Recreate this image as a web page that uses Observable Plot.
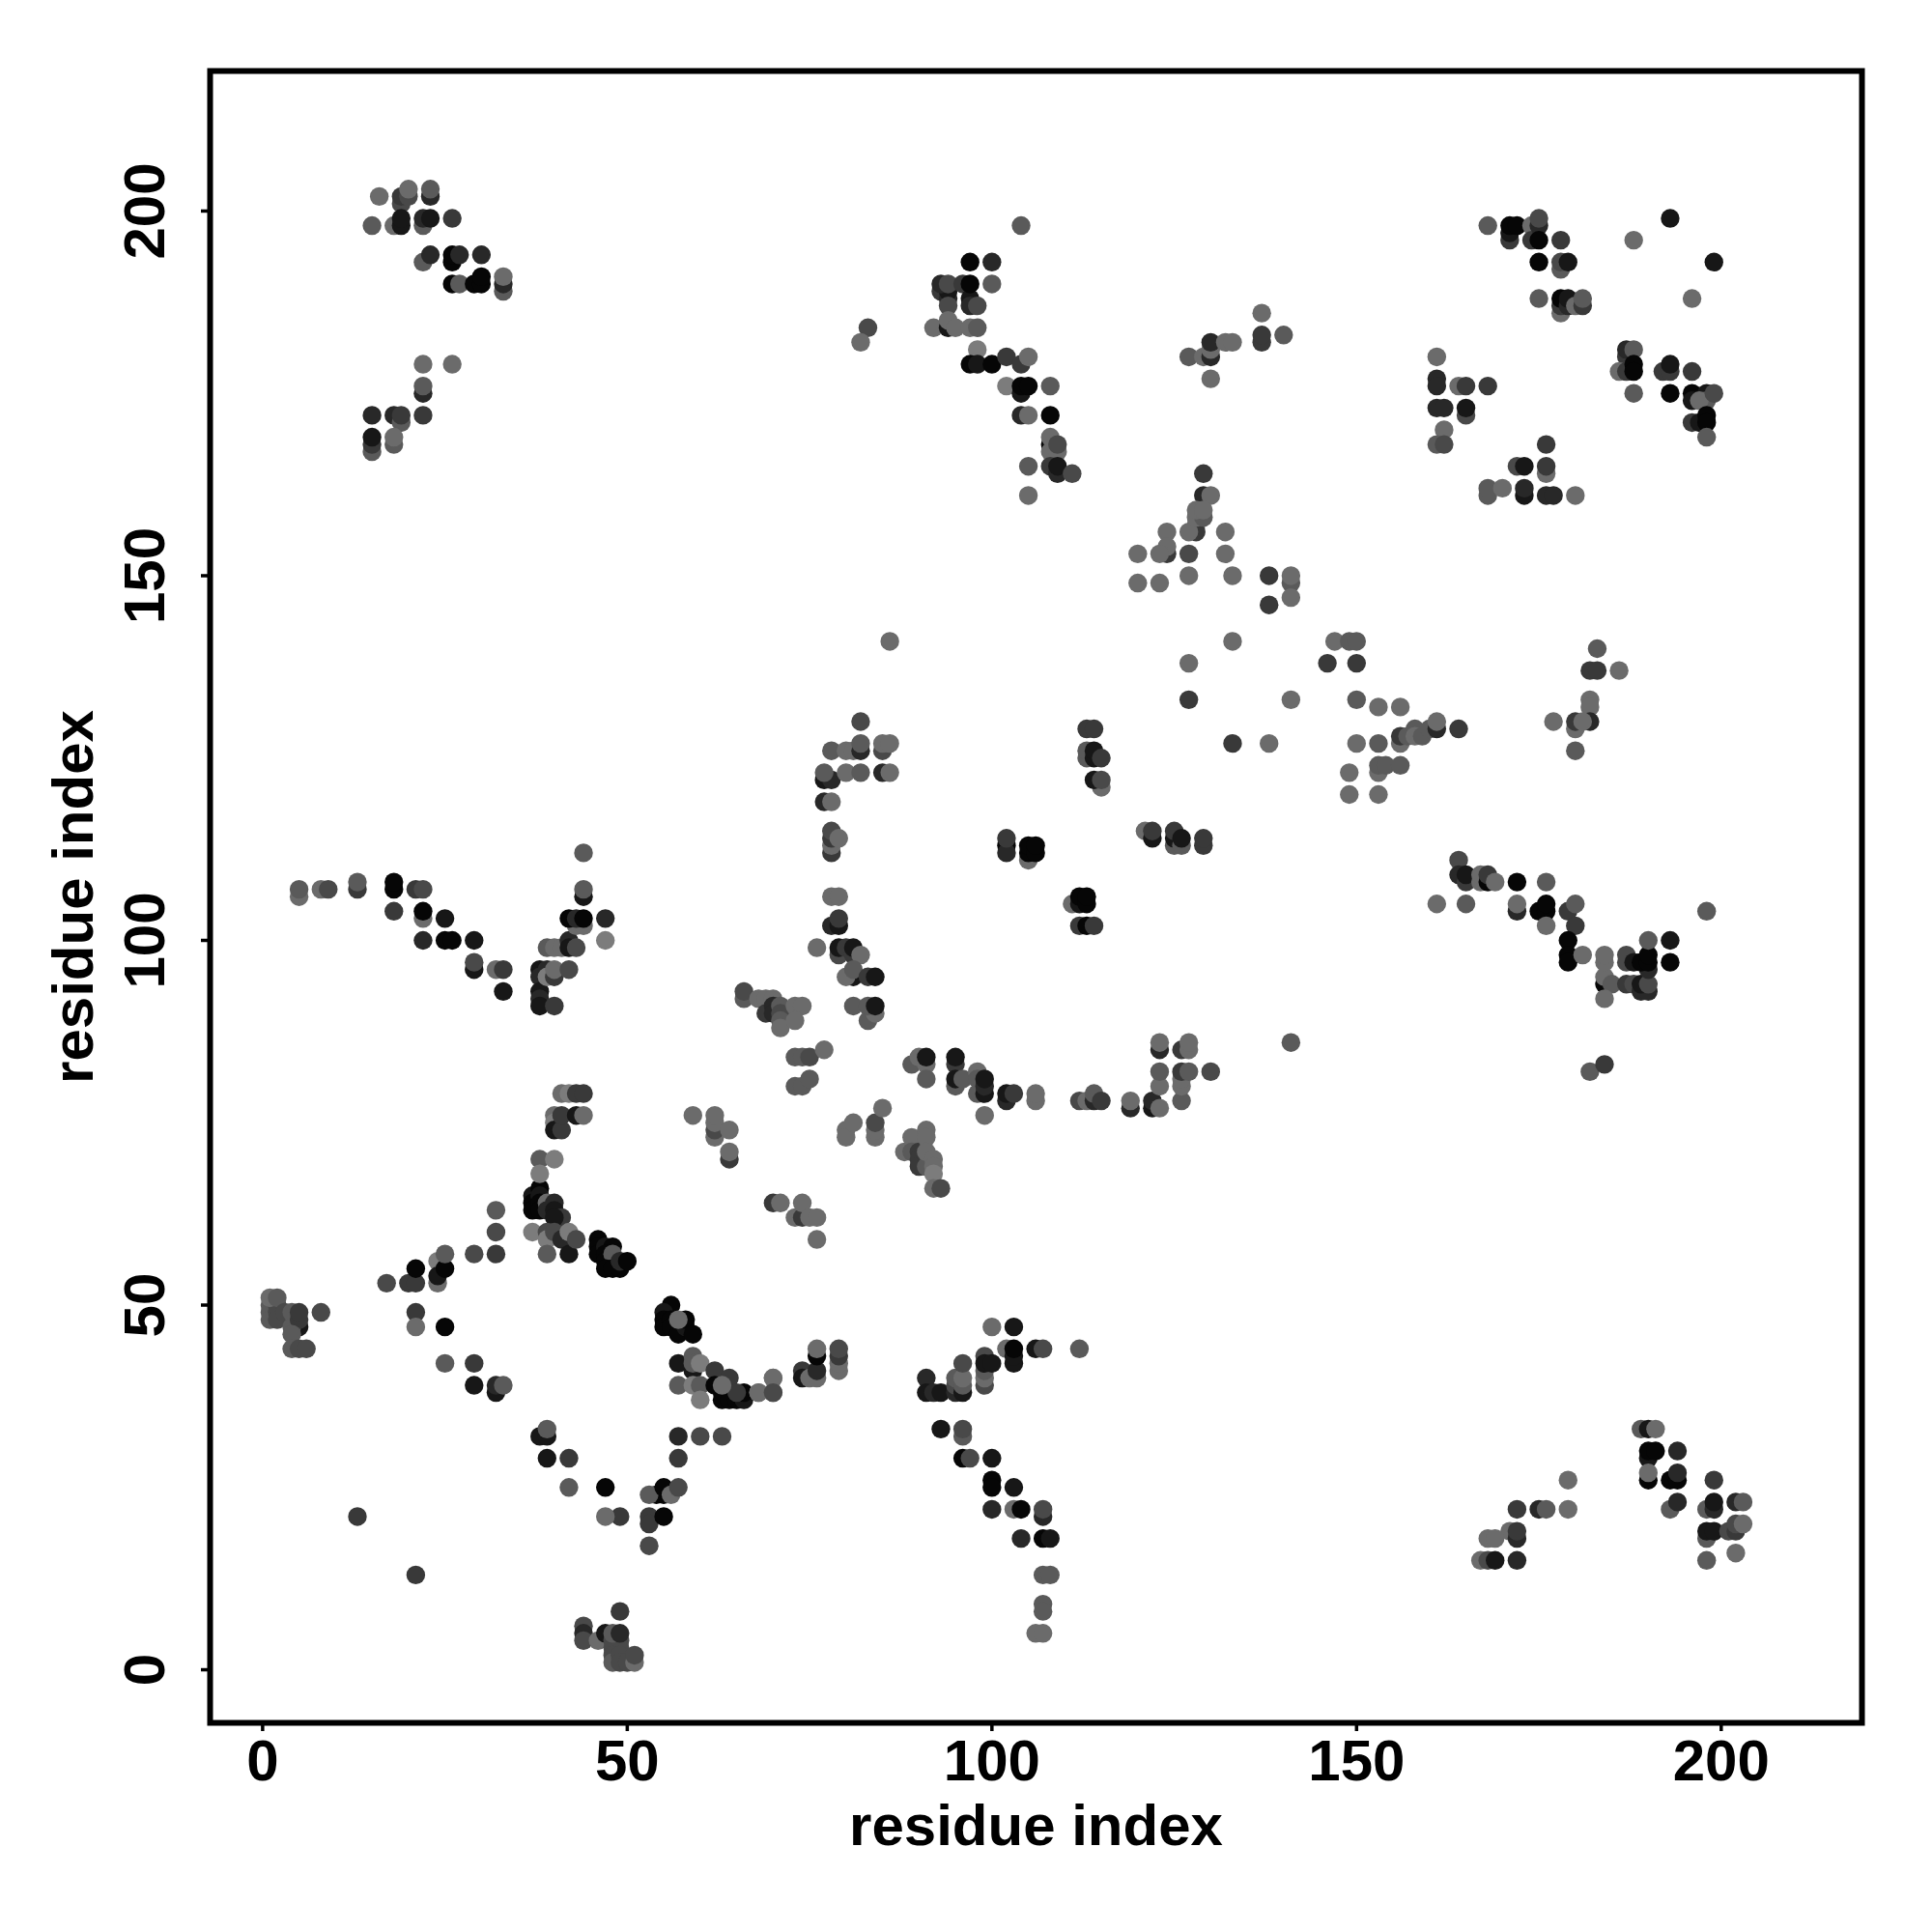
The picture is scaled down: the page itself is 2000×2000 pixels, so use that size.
<!DOCTYPE html>
<html>
<head>
<meta charset="utf-8">
<script src="https://cdn.jsdelivr.net/npm/d3@7"></script>
<script src="https://cdn.jsdelivr.net/npm/@observablehq/plot@0.6"></script>
<style>html,body{margin:0;padding:0;background:#fff}svg{display:block}</style>
</head>
<body>
<div id="chart"></div>
<script>
// each contact: [residue i, residue j, shade level 0 (black) .. 7 (light grey)]
const tickValues = [0, 50, 100, 150, 200];
const axisLabel = "residue index";

const nTerminus = [[1,50,5],[1,49,5],[1,48,5],[2,50,4],[2,49,4],[2,48,4],[1,51,6],[2,51,5],[3,49,4],[4,49,5],[5,47,1],[4,47,5],[5,48,3],[5,49,3],[4,46,5],[4,44,5],[5,44,4],[6,44,4],[8,49,4],[13,21,3],[21,13,3]];
const loopA = [[17,53,4],[20,53,3],[21,53,3],[21,55,0],[24,53,6],[24,56,7],[24,54,1],[25,55,0],[25,57,5],[29,57,4],[32,57,3],[32,60,4],[32,63,5],[21,49,3],[21,47,6],[25,47,0],[25,42,5],[29,42,3],[29,39,1],[32,38,1],[32,39,2],[33,39,5]];
const coreB = [[37,65,1],[37,64,0],[37,63,0],[38,66,0],[38,65,1],[38,64,0],[38,63,0],[39,64,6],[39,63,2],[40,64,2],[40,63,1],[41,62,3],[40,62,1],[37,60,7],[39,60,4],[39,59,7],[39,57,5],[40,60,4],[41,59,2],[42,60,7],[42,57,1],[43,59,4],[38,70,5],[40,70,7],[38,68,7]];
const coreC = [[46,59,0],[46,58,0],[46,57,0],[47,58,1],[48,58,0],[47,57,0],[47,56,0],[48,56,0],[48,57,5],[47,55,0],[48,55,0],[49,55,0],[49,56,2],[50,56,0]];
const coreD = [[56,50,0],[55,49,1],[55,48,0],[55,47,0],[56,48,0],[56,47,0],[57,46,0],[58,47,1],[58,48,0],[57,48,6],[59,46,0]];
const coreE = [[57,42,1],[59,41,1],[59,43,5],[59,42,5],[60,42,7],[62,41,3],[64,40,3],[57,39,5],[59,39,7],[60,39,5],[60,37,7],[62,39,0],[63,38,0],[63,37,0],[64,37,0],[65,37,0],[66,37,1],[66,38,0],[65,38,3],[63,39,6],[68,38,7],[70,38,5],[70,40,7]];
const betaF = [[57,32,2],[60,32,4],[63,32,4],[57,29,3],[38,32,1],[39,32,1],[39,33,5],[39,29,1],[42,29,3],[42,25,5],[47,25,0],[49,21,3],[47,21,6],[54,24,0],[55,24,0],[53,24,5],[55,25,0],[56,24,6],[57,25,4],[53,21,3],[53,20,3],[55,21,0],[53,17,4]];
const bottomG = [[49,8,3],[44,6,4],[44,5,2],[44,4,4],[46,4,6],[47,5,1],[48,4,4],[49,4,4],[48,3,4],[49,3,4],[48,5,5],[49,5,2],[48,2,4],[48,1,5],[49,2,4],[49,1,4],[50,1,4],[51,1,6],[51,2,4]];
const strandH = [[5,106,6],[5,107,5],[8,107,6],[9,107,4],[13,107,3],[13,108,5],[18,107,0],[18,108,0],[18,104,3],[21,107,3],[22,107,4],[22,103,6],[22,104,0],[25,103,1],[22,100,2],[25,100,0],[26,100,0],[29,100,1],[29,96,1],[29,97,4],[32,96,6],[33,96,3],[33,93,1]];
const strandI = [[38,96,1],[38,95,2],[38,93,1],[38,92,2],[38,91,1],[39,96,2],[39,95,7],[40,95,3],[40,96,6],[40,91,3],[42,96,4],[39,99,5],[40,99,6],[41,99,6],[42,100,2],[42,99,1],[43,99,4],[43,102,6],[44,102,6],[42,103,0],[43,103,2],[44,103,0],[47,103,2],[47,100,7],[44,106,1],[44,107,5],[44,112,5]];
const strandJ = [[41,79,6],[42,79,7],[43,79,3],[44,79,3],[40,76,6],[40,75,7],[40,74,1],[41,74,3],[41,76,3],[43,76,1],[44,76,6],[59,76,6],[62,73,6],[62,74,4],[62,75,6],[62,76,6],[64,74,6],[64,70,3],[64,71,6],[70,64,3],[71,64,6],[73,62,6],[74,62,3],[74,64,6],[75,62,6],[76,62,6],[76,59,6]];
const helixK = [[66,92,5],[66,93,4],[68,92,6],[69,92,6],[70,92,6],[69,90,3],[70,91,2],[70,90,2],[71,91,5],[71,90,4],[71,89,5],[71,88,6],[73,91,6],[74,91,6],[73,89,6],[73,84,5],[74,84,5],[75,84,4],[77,85,6],[73,80,5],[74,80,5],[75,81,5]];
const helixL = [[80,74,6],[80,73,6],[81,75,6],[84,73,6],[84,74,6],[84,75,4],[85,77,6],[88,71,6],[89,73,6],[89,71,5],[90,71,3],[90,70,3],[90,69,3],[91,70,3],[91,69,5],[91,74,6],[91,73,6],[91,71,6],[92,70,6],[92,69,6],[92,68,7],[92,66,6],[93,66,4]];
const turnM = [[79,98,4],[78,102,2],[79,102,1],[79,103,3],[76,99,6],[79,99,1],[80,99,3],[81,98,3],[81,99,1],[82,98,6],[81,95,1],[80,95,6],[81,96,5],[83,95,3],[84,95,1],[81,91,5],[83,89,5],[84,90,6],[83,91,5],[84,91,1]];
const turnN = [[78,106,6],[79,106,6],[78,112,3],[78,113,6],[78,114,3],[78,115,4],[79,114,6],[77,119,2],[78,119,6],[77,122,1],[78,122,2],[77,123,5],[80,123,6],[82,123,5],[85,123,2],[86,123,6],[78,126,5],[80,126,6],[81,126,6],[82,126,2],[82,127,5],[85,126,4],[85,127,6],[86,127,6],[82,130,4],[86,141,6]];
const bandO = [[89,83,5],[90,84,6],[91,83,6],[91,84,1],[91,81,5],[95,83,3],[95,84,1],[95,80,5],[95,81,1],[96,81,5],[98,82,6],[98,79,5],[98,81,5],[99,79,1],[99,80,2],[99,81,1],[99,76,6],[102,78,2],[102,79,1],[103,79,3],[106,78,6],[106,79,6],[112,78,4],[113,78,6],[114,78,2],[114,79,5],[115,78,3]];
const bandP = [[119,77,2],[119,78,6],[122,77,1],[122,78,2],[123,77,6],[123,80,6],[123,82,5],[123,85,2],[123,86,6],[126,78,5],[126,80,6],[126,81,6],[126,82,3],[127,82,5],[126,85,3],[127,85,6],[127,86,6],[130,82,4],[141,86,5]];
const bandQ = [[70,40,6],[68,38,6],[70,38,4],[74,41,3],[74,40,1],[75,40,6],[76,40,6],[76,41,2],[76,43,0],[76,44,6],[79,41,6],[79,42,6],[79,43,3],[79,44,4]];
const bandR = [[91,40,2],[91,38,1],[92,38,2],[93,38,1],[95,38,2],[95,39,4],[95,40,5],[96,38,1],[96,39,5],[96,40,6],[96,42,4],[99,39,4],[99,40,6],[99,41,5],[99,43,4],[99,42,1],[100,42,1],[100,47,6],[103,47,1],[102,44,6],[103,42,1],[103,43,1],[103,44,0],[106,44,1],[107,44,4],[112,44,5]];
const bandS = [[93,33,1],[96,32,5],[96,33,4],[96,29,0],[97,29,4],[100,29,1],[100,26,0],[100,25,0],[103,25,1],[100,22,2],[103,22,6],[104,22,0],[107,21,2],[107,22,4],[104,18,2],[107,18,0],[108,18,1],[107,13,5],[108,13,5],[107,9,5],[107,8,5],[106,5,6],[107,5,6]];
const blockT = [[102,113,0],[102,112,2],[102,114,3],[105,111,6],[105,112,0],[105,113,0],[106,112,0],[106,113,0],[113,129,3],[114,129,3],[113,125,5],[113,126,5],[114,125,1],[114,126,1],[115,125,3],[115,121,6],[114,122,1],[115,122,4],[111,105,6],[112,105,1],[112,106,0],[113,105,0],[113,106,0],[112,102,3],[113,102,0],[114,102,3]];
const blockU = [[121,115,6],[122,114,1],[122,115,3],[125,113,5],[125,114,1],[125,115,3],[126,113,5],[126,114,1],[129,113,3],[129,114,3]];
const sheetV = [[127,133,3],[141,133,6],[133,127,3],[138,127,6],[127,138,6],[133,141,6],[146,138,3],[147,141,6],[149,141,5],[150,141,5],[150,138,3],[150,133,5],[153,132,6],[156,132,6],[150,127,6],[153,127,5],[156,127,6],[156,128,3],[157,128,5],[158,129,5],[158,128,6],[159,128,5],[160,129,5],[161,129,2],[161,130,6],[164,129,3],[153,123,6],[153,124,5],[154,124,5],[156,124,5],[149,123,6],[149,120,6],[153,120,6]];
const sheetW = [[183,140,5],[182,137,3],[183,137,3],[186,137,6],[182,133,6],[182,132,6],[177,130,6],[180,129,6],[180,130,3],[182,130,2],[181,130,6],[180,126,5]];
const sheetX = [[164,111,4],[164,109,2],[165,108,3],[165,109,1],[167,108,6],[167,109,6],[168,108,0],[168,109,3],[169,108,6],[172,108,0],[176,108,5],[161,105,6],[165,105,5],[172,104,2],[172,105,6],[175,104,0],[176,104,0],[176,105,0],[176,102,6],[179,104,3],[180,105,5],[180,102,3],[179,100,0],[179,98,0],[179,97,0],[181,98,6]];
const sheetY = [[184,94,0],[184,95,6],[184,97,6],[184,98,6],[185,94,5],[184,92,6],[187,94,3],[188,94,4],[189,93,2],[190,93,2],[189,94,1],[190,94,4],[187,97,4],[187,98,4],[188,97,1],[190,96,2],[189,97,0],[190,97,0],[190,98,0],[190,100,5],[193,100,1],[193,97,0],[198,104,5],[182,82,5],[184,83,3]];
const hairpinA = [[137,186,6],[137,182,3],[137,183,3],[140,183,5],[127,180,5],[129,180,6],[130,180,2],[130,181,6],[130,182,2],[132,182,6],[133,182,6],[130,177,6]];
const hairpinB = [[129,164,3],[129,161,2],[130,161,6],[128,157,6],[128,156,3],[127,156,6],[128,158,6],[129,158,5],[128,159,6],[129,159,6],[124,156,6],[132,156,6],[124,153,3],[124,154,6],[123,153,6],[127,153,4],[132,153,6],[120,153,6],[120,149,6],[123,149,6],[127,150,6],[133,150,6],[138,150,3],[141,149,5],[141,150,6],[141,147,6],[138,146,3]];
const hairpinC = [[161,180,6],[161,177,2],[161,176,2],[164,176,6],[165,176,3],[168,176,3],[161,173,2],[162,173,2],[165,172,4],[165,173,1],[162,170,6],[161,168,5],[162,168,4],[176,168,3],[172,165,4],[173,165,1],[176,164,6],[176,165,3],[168,161,5],[168,162,5],[170,162,6],[173,161,1],[173,162,2],[176,161,2],[177,161,2],[180,161,6]];
const hairpinD = [[187,180,3],[187,181,2],[188,181,5],[186,178,6],[187,178,3],[188,179,0],[188,178,0],[188,175,5],[192,178,3],[193,178,3],[193,179,1],[196,178,3],[193,175,0],[196,175,0],[196,174,1],[198,175,1],[198,174,5],[197,174,6],[199,175,4],[196,171,3],[197,171,1],[198,172,0],[198,171,0],[198,169,5]];
const topE = [[16,202,6],[19,201,4],[19,202,3],[20,202,4],[20,203,6],[23,202,2],[23,203,5],[15,198,5],[18,198,6],[19,198,1],[19,199,1],[22,198,5],[22,199,2],[23,199,1],[26,199,3],[22,193,5],[23,194,2],[26,193,0],[26,194,0],[27,194,2],[30,194,2],[26,190,0],[27,190,5],[29,190,0],[30,190,0],[30,191,0],[33,189,5],[33,190,2],[33,191,6]];
const topF = [[22,179,6],[26,179,6],[22,175,2],[22,176,5],[15,172,2],[18,172,2],[19,171,5],[19,172,3],[22,172,3],[15,167,5],[15,168,3],[15,169,1],[18,168,5],[18,169,6]];
const topG = [[104,198,5],[97,193,0],[100,193,2],[100,190,5],[93,189,3],[94,188,2],[94,189,1],[94,187,4],[93,190,2],[94,190,4],[96,190,3],[97,188,1],[97,187,2],[97,190,0],[98,187,4],[83,184,4],[82,182,6],[92,184,6],[94,184,1],[94,185,6],[95,184,6],[97,184,6],[98,184,5]];
const topH = [[98,181,7],[97,179,0],[98,179,1],[100,179,0],[102,180,3],[104,179,3],[105,180,6],[102,176,7],[104,175,1],[104,176,0],[105,176,0],[108,176,5],[104,172,2],[105,172,6],[108,172,0],[108,168,0],[108,167,6],[108,169,6],[109,167,6],[109,168,4],[105,165,5],[108,165,3],[109,164,2],[109,165,1],[111,164,4],[105,161,6]];
const topI = [[168,198,5],[171,196,3],[171,197,1],[171,198,0],[172,198,0],[174,198,6],[174,196,3],[175,198,2],[175,196,0],[175,199,4],[178,196,3],[175,193,0],[178,192,5],[178,193,4],[179,193,1],[175,188,5],[178,186,6],[178,187,3],[178,188,0],[179,187,2],[179,188,1],[180,187,6],[181,187,3],[181,188,5],[193,199,1],[188,196,6],[199,193,1],[196,188,6]];
const cornerJ = [[172,22,3],[175,22,2],[176,22,5],[179,22,6],[179,26,6],[171,19,6],[172,18,2],[172,19,3],[168,18,6],[169,18,6],[167,15,6],[168,15,4],[169,15,1],[172,15,2]];
const cornerK = [[189,33,5],[190,33,1],[191,33,6],[190,29,1],[190,30,0],[191,30,0],[194,30,2],[190,26,0],[190,27,6],[193,26,0],[194,26,0],[194,27,2],[193,22,5],[194,23,2],[199,26,3],[198,22,5],[199,22,2],[199,23,1],[202,23,2],[203,23,5],[198,18,5],[198,19,1],[199,19,1],[201,19,4],[202,19,3],[202,20,4],[203,20,6],[202,16,6],[198,15,5]];

const contacts = [
  ...nTerminus, ...loopA, ...coreB, ...coreC, ...coreD, ...coreE, ...betaF, ...bottomG,
  ...strandH, ...strandI, ...strandJ, ...helixK, ...helixL, ...turnM, ...turnN,
  ...bandO, ...bandP, ...bandQ, ...bandR, ...bandS, ...blockT, ...blockU,
  ...sheetV, ...sheetW, ...sheetX, ...sheetY, ...hairpinA, ...hairpinB, ...hairpinC, ...hairpinD,
  ...topE, ...topF, ...topG, ...topH, ...topI, ...cornerJ, ...cornerK
];

const font = "'Liberation Sans', Arial, sans-serif";
const chart = Plot.plot({
  width: 2000,
  height: 2000,
  marginLeft: 217,
  marginRight: 73,
  marginTop: 73,
  marginBottom: 217,
  style: {fontFamily: font, background: "#fff"},
  x: {domain: [-7.2, 219.3]},
  y: {domain: [-7.28, 219.2]},
  color: {type: "linear", domain: [0, 7], range: ["#060606", "#7c7c7c"]},
  marks: [
    Plot.dot(contacts, {x: d => d[0], y: d => d[1], fill: d => d[2], r: 9.7}),
    Plot.frame({stroke: "#000", strokeWidth: 6}),
    Plot.axisX({ticks: tickValues, label: null, tickSize: 9, strokeWidth: 3.5, tickPadding: 8, fontSize: 60, fontWeight: "bold", tickFormat: d => String(d), fill: "#000"}),
    Plot.axisY({ticks: tickValues, label: null, tickSize: 9, strokeWidth: 3.5, tickRotate: -90, tickPadding: 39, fontSize: 60, fontWeight: "bold", tickFormat: d => String(d), fill: "#000"}),
    Plot.text([axisLabel], {frameAnchor: "bottom", dy: 126, fontSize: 60, fontWeight: "bold", fill: "#000", lineAnchor: "bottom"}),
    Plot.text([axisLabel], {frameAnchor: "left", dx: -122, rotate: -90, textAnchor: "middle", fontSize: 60, fontWeight: "bold", fill: "#000", lineAnchor: "bottom"})
  ]
});
document.getElementById("chart").appendChild(chart);
</script>
</body>
</html>
